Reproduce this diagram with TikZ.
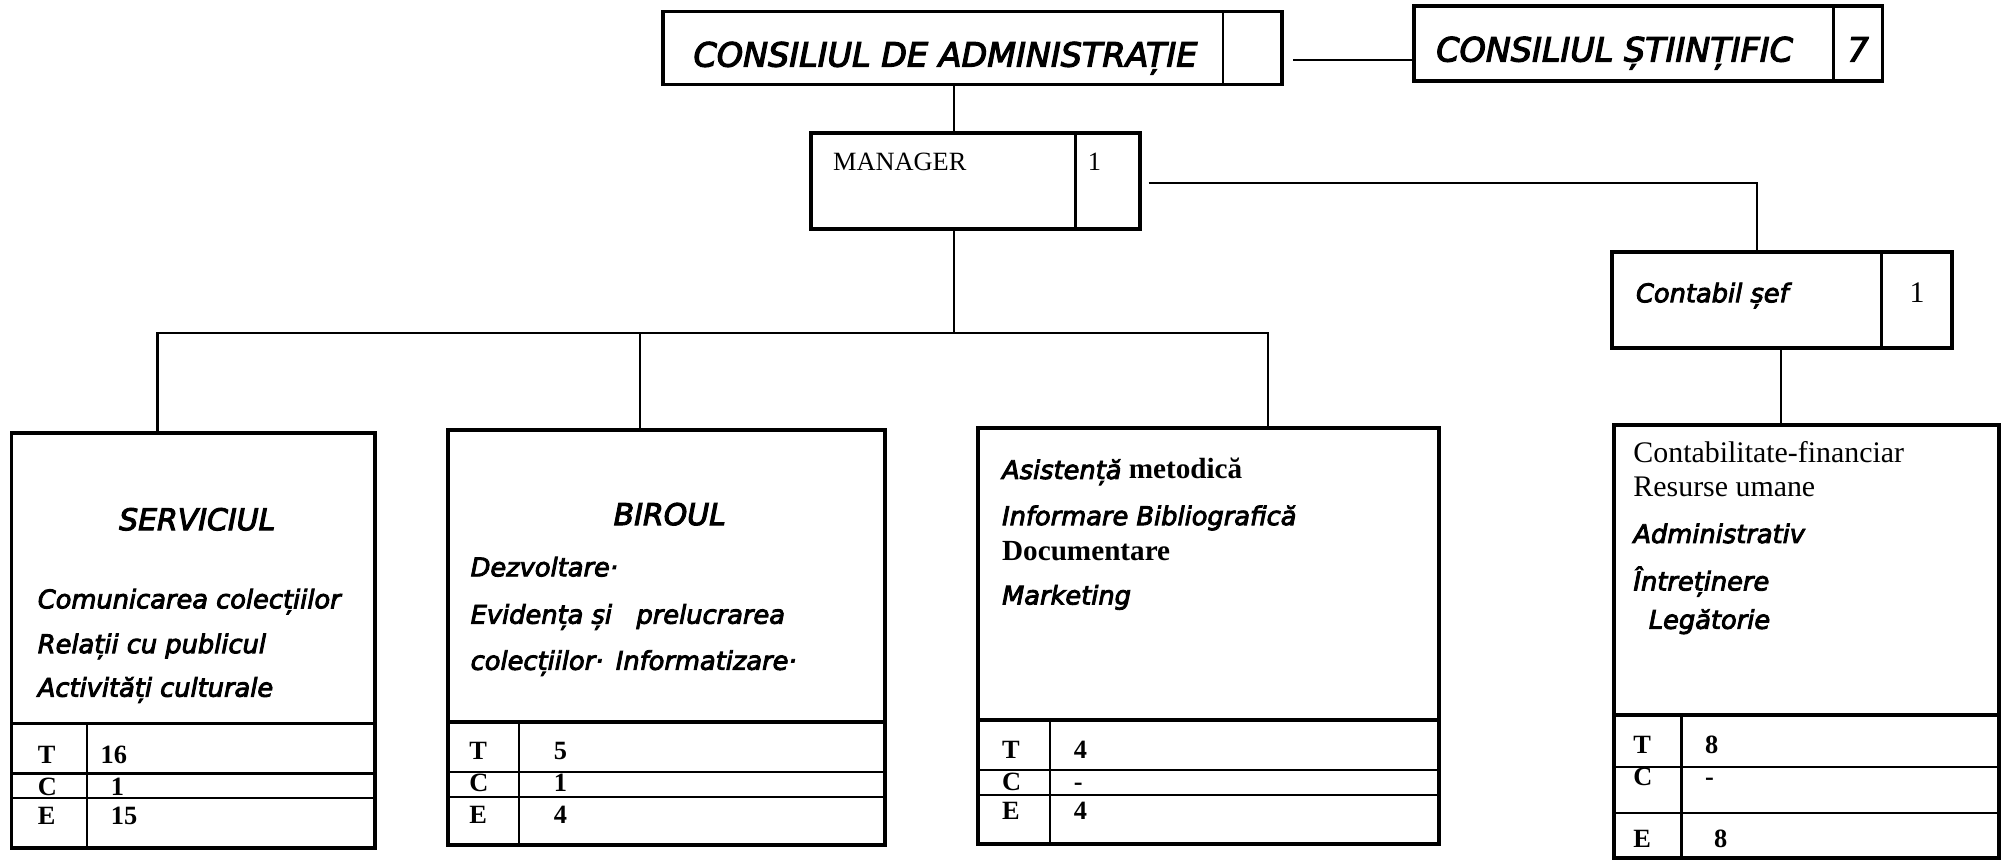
\documentclass[tikz,border=0pt]{standalone}
\usepackage{fontspec}
\setmainfont{Liberation Serif}
\newfontfamily\comicfont{DejaVu Sans Oblique}[FakeBold=3.5]
\usetikzlibrary{fit}
\tikzset{
  box/.style={draw, line width=1.1pt, inner sep=0pt},
  conn/.style={line width=0.6pt},
  divline/.style={line width=0.8pt},
  rowline/.style={line width=0.6pt},
  thickrow/.style={line width=1.1pt},
  txt/.style={inner sep=0pt, anchor=base west},
  ctitle/.style={txt, font=\comicfont\fontsize{9.5}{11}\selectfont},
  chead/.style={inner sep=0pt, anchor=base, font=\comicfont\fontsize{8.5}{10}\selectfont},
  cbody/.style={txt, font=\comicfont\fontsize{7.3}{9}\selectfont},
  sbody/.style={txt, font=\fontsize{8.5}{10}\selectfont},
  sbold/.style={txt, font=\bfseries\fontsize{8.3}{10}\selectfont},
  tab/.style={txt, font=\bfseries\fontsize{7.5}{9}\selectfont},
}
\begin{document}
\begin{tikzpicture}[x=0.012806cm, y=-0.012806cm]
\useasboundingbox (0,0) rectangle (1568,672);

% top boxes
\node[box, fit={(518,9) (1001,66)}] (ca) {};
\draw[divline] (955,9) -- (955,66);
\node[ctitle] (catxt) at (541,52) {CONSILIUL DE ADMINISTRAȚIE};

\node[box, fit={(1104,5) (1470,63)}] (cs) {};
\draw[divline] (1432,5) -- (1432,63);
\node[ctitle] (cstxt) at (1121,48) {CONSILIUL ȘTIINȚIFIC};
\node[inner sep=0pt, anchor=base, font=\comicfont\fontsize{9.5}{11}\selectfont] (csnum) at (1451,48) {7};

\node[box, fit={(633,104) (890,179)}] (mgr) {};
\draw[divline] (840,104) -- (840,179);
\node[txt, font=\fontsize{7.5}{9}\selectfont] (mgrtxt) at (650,133) {MANAGER};
\node[txt, font=\fontsize{7.5}{9}\selectfont] (mgrnum) at (849,133) {1};

\node[box, fit={(1259,197) (1524,272)}] (cont) {};
\draw[divline] (1469,197) -- (1469,272);
\node[cbody] (conttxt) at (1277,236) {Contabil șef};
\node[inner sep=0pt, anchor=base, font=\fontsize{8.5}{10}\selectfont] (contnum) at (1497,236) {1};

% bottom boxes
\node[box, fit={(9,338) (293,662)}] (serv) {};
\draw[thickrow] (9,565) -- (293,565);
\draw[rowline] (9,604) -- (293,604);
\draw[rowline] (9,623) -- (293,623);
\draw[rowline] (68,565) -- (68,662);
\node[chead] (servh) at (154,414) {SERVICIUL};
\node[cbody] (serv1) at (29,475) {Comunicarea colecțiilor};
\node[cbody] (serv2) at (29,510) {Relații cu publicul};
\node[cbody] (serv3) at (29,544) {Activități culturale};
\node[tab] (servT) at (29,596) {T};
\node[tab] (servTv) at (78,596) {16};
\node[tab] (servC) at (29,621) {C};
\node[tab] (servCv) at (86,621) {1};
\node[tab] (servE) at (29,644) {E};
\node[tab] (servEv) at (86,644) {15};

\node[box, fit={(350,336) (691,660)}] (birou) {};
\draw[thickrow] (350,564) -- (691,564);
\draw[rowline] (350,603) -- (691,603);
\draw[rowline] (350,622) -- (691,622);
\draw[rowline] (405,564) -- (405,660);
\node[chead] (birouh) at (523,410) {BIROUL};
\node[cbody] (birou1) at (367,450) {Dezvoltare·};
\node[cbody] (birou2) at (367,487) {Evidența și \ \ prelucrarea};
\node[cbody] (birou3) at (367,523) {colecțiilor· \,Informatizare·};
\node[tab] (birouT) at (366,593) {T};
\node[tab] (birouTv) at (432,593) {5};
\node[tab] (birouC) at (366,618) {C};
\node[tab] (birouCv) at (432,618) {1};
\node[tab] (birouE) at (366,643) {E};
\node[tab] (birouEv) at (432,643) {4};

\node[box, fit={(764,334) (1124,659)}] (asist) {};
\draw[thickrow] (764,562) -- (1124,562);
\draw[rowline] (764,601) -- (1124,601);
\draw[rowline] (764,621) -- (1124,621);
\draw[rowline] (820,562) -- (820,659);
\node[txt] (asist1) at (782,374) {{\comicfont\fontsize{7.3}{9}\selectfont Asistență}{\bfseries\fontsize{8.3}{10}\selectfont\ metodică}};
\node[cbody] (asist2) at (782,410) {Informare Bibliografică};
\node[sbold] (asist3) at (782,438) {Documentare};
\node[cbody] (asist4) at (782,472) {Marketing};
\node[tab] (asistT) at (782,592) {T};
\node[tab] (asistTv) at (838,592) {4};
\node[tab] (asistC) at (782,617) {C};
\node[tab] (asistCv) at (838,617) {-};
\node[tab] (asistE) at (782,640) {E};
\node[tab] (asistEv) at (838,640) {4};

\node[box, fit={(1260,332) (1561,670)}] (fin) {};
\draw[thickrow] (1260,558) -- (1561,558);
\draw[rowline] (1260,599) -- (1561,599);
\draw[rowline] (1260,635) -- (1561,635);
\draw[rowline] (1313,558) -- (1313,670);
\node[sbody] (fin1) at (1275,361) {Contabilitate-financiar};
\node[sbody] (fin2) at (1275,388) {Resurse umane};
\node[cbody] (fin3) at (1275,424) {Administrativ};
\node[cbody] (fin4) at (1275,461) {Întreținere};
\node[cbody] (fin5) at (1287,491) {Legătorie};
\node[tab] (finT) at (1275,588) {T};
\node[tab] (finTv) at (1331,588) {8};
\node[tab] (finC) at (1275,613) {C};
\node[tab] (finCv) at (1331,613) {-};
\node[tab] (finE) at (1275,662) {E};
\node[tab] (finEv) at (1338,662) {8};

% connectors
\coordinate (bus) at (745,260);
\coordinate (dS) at (123,260);
\coordinate (dB) at (500,260);
\coordinate (dA) at (990,260);
\coordinate (caR) at (1010,47);
\coordinate (mR) at (897,143);
\coordinate (cT) at (1372,143);
\coordinate (cD) at (1391,300);

\draw[conn] (caR) -- (caR -| cs.west);
\draw[conn] (bus |- ca.south) -- (bus |- mgr.north);
\draw[conn] (bus |- mgr.south) -- (bus);
\draw[conn] (dS |- serv.north) -- (dS) -- (dA) -- (dA |- asist.north);
\draw[conn] (dB) -- (dB |- birou.north);
\draw[conn] (mR) -- (cT) -- (cT |- cont.north);
\draw[conn] (cD |- cont.south) -- (cD |- fin.north);
\end{tikzpicture}
\end{document}
